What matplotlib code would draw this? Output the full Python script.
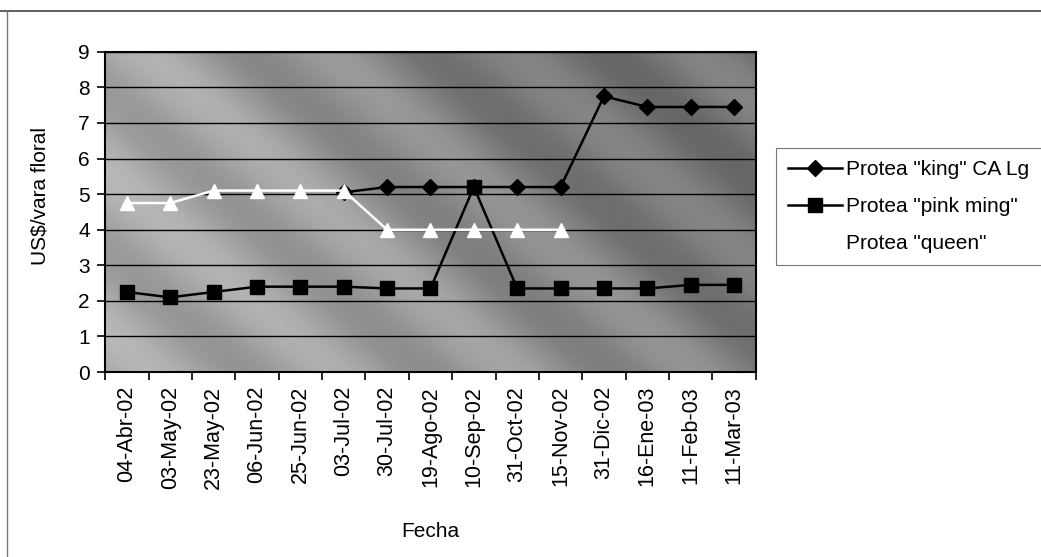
import numpy as np
import matplotlib
matplotlib.use('Agg')
import matplotlib.pyplot as plt
from matplotlib.lines import Line2D

plt.rcParams['font.family'] = ['Liberation Sans', 'DejaVu Sans']

# --- Data ---
fechas = ['04-Abr-02', '03-May-02', '23-May-02', '06-Jun-02', '25-Jun-02',
          '03-Jul-02', '30-Jul-02', '19-Ago-02', '10-Sep-02', '31-Oct-02',
          '15-Nov-02', '31-Dic-02', '16-Ene-03', '11-Feb-03', '11-Mar-03']
king = [np.nan, np.nan, np.nan, np.nan, np.nan,
        5.05, 5.2, 5.2, 5.2, 5.2, 5.2, 7.75, 7.45, 7.45, 7.45]
pink_ming = [2.25, 2.1, 2.25, 2.4, 2.4, 2.4, 2.35, 2.35, 5.2, 2.35,
             2.35, 2.35, 2.35, 2.45, 2.45]
queen = [4.75, 4.75, 5.1, 5.1, 5.1, 5.1, 4.0, 4.0, 4.0, 4.0, 4.0,
         np.nan, np.nan, np.nan, np.nan]

fig = plt.figure(figsize=(10.41, 5.57), dpi=100, facecolor='white')
ax = fig.add_axes([0.101, 0.332, 0.625, 0.575])

x = np.arange(len(fechas))

# Textured grey plot area (smooth diagonal bands)
gx, gy = np.meshgrid(np.linspace(0, 1, 300), np.linspace(0, 1, 200))
diag = gx * 1.6 + gy * 0.9
tex = 0.60 - 0.14 * np.clip(diag - 0.9, 0, 1) + 0.06 * np.sin(diag * 14)
tex += 0.10 * np.clip(0.6 - gx, 0, 1)
ax.imshow(tex, extent=[-0.5, len(fechas) - 0.5, 0, 9], origin='lower',
          cmap='gray', vmin=0, vmax=1, aspect='auto', zorder=0,
          interpolation='bilinear')

ax.plot(x, king, color='black', lw=1.8, marker='D', ms=8,
        label='Protea "king" CA Lg', zorder=3)
ax.plot(x, pink_ming, color='black', lw=1.8, marker='s', ms=10,
        label='Protea "pink ming"', zorder=3)
ax.plot(x, queen, color='white', lw=1.8, marker='^', ms=10,
        label='Protea "queen"', zorder=4)

ax.set_xlim(-0.5, len(fechas) - 0.5)
ax.set_ylim(0, 9)
ax.set_yticks(range(0, 10))
ax.yaxis.grid(True, color='black', lw=1.0)
ax.set_axisbelow(False)
ax.set_xticks(x)
ax.set_xticklabels(fechas, rotation=90, fontsize=15.5)
ax.set_xticks(np.arange(-0.5, len(fechas)), minor=True)
ax.tick_params(axis='x', which='major', length=0, pad=10)
ax.tick_params(axis='x', which='minor', length=6, width=1.2, direction='out')
ax.tick_params(axis='y', labelsize=15, length=6, width=1.2, pad=5)
for s in ax.spines.values():
    s.set_color('black')
    s.set_linewidth(1.5)

ax.set_ylabel(r'US\$/vara floral', fontsize=15)
ax.yaxis.set_label_coords(-0.085, 0.55)
ax.set_xlabel('Fecha', fontsize=15, labelpad=24)

leg = fig.legend(loc='upper left', bbox_to_anchor=(0.745, 0.5, 0.26, 0.235),
                 mode='expand', fontsize=15, frameon=True, fancybox=False,
                 handlelength=2.6, handletextpad=0.2, borderaxespad=0,
                 labelspacing=0.85, borderpad=0.6)
leg.get_frame().set_edgecolor('#555555')
leg.get_frame().set_linewidth(0.8)

# chart area border (top and left)
fig.add_artist(Line2D([0.0, 1.0], [0.981, 0.981], color='#444444', lw=1.2,
                      transform=fig.transFigure))
fig.add_artist(Line2D([0.007, 0.007], [0.0, 0.981], color='#777777', lw=1.0,
                      transform=fig.transFigure))

fig.savefig('out.png', dpi=100, facecolor='white')
